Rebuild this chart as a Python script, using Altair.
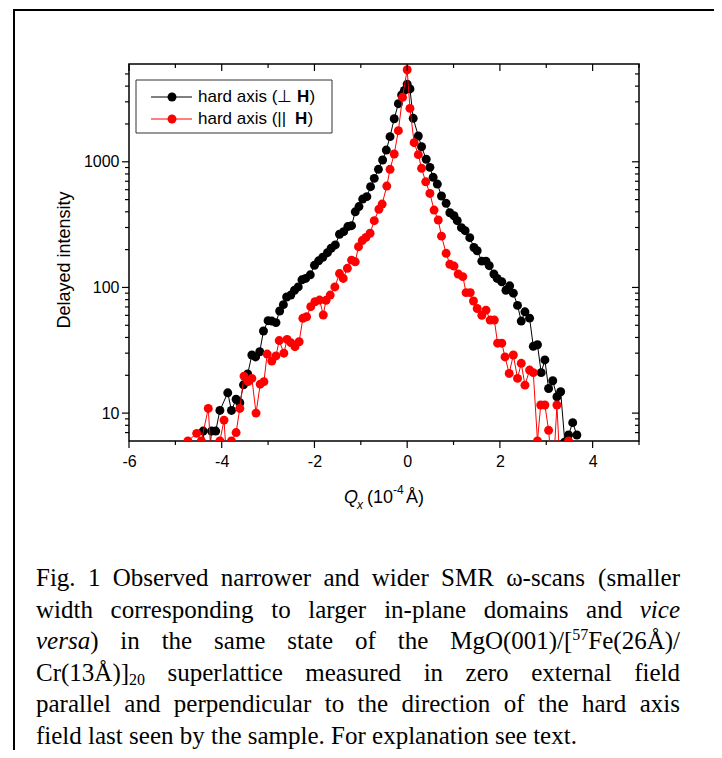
import altair as alt
import pandas as pd

# ---------------- data ----------------
qx_perp = [-4.49, -4.40, -4.31, -4.22, -4.13, -4.04, -3.87, -3.79, -3.69, -3.61, -3.53, -3.44,
           -3.35, -3.27, -3.18, -3.10, -3.00, -2.92, -2.83, -2.75, -2.67, -2.60, -2.51, -2.43,
           -2.35, -2.27, -2.19, -2.09, -2.00, -1.91, -1.82, -1.72, -1.64, -1.55, -1.46, -1.37,
           -1.28, -1.20, -1.12, -1.04, -0.96, -0.87, -0.79, -0.71, -0.62, -0.53, -0.45, -0.37,
           -0.28, -0.19, -0.12, -0.06, 0.00, 0.06, 0.13, 0.24, 0.31, 0.41, 0.49, 0.56, 0.65,
           0.74, 0.84, 0.92, 1.01, 1.08, 1.17, 1.25, 1.35, 1.44, 1.51, 1.61, 1.70, 1.77, 1.87,
           1.94, 2.04, 2.13, 2.21, 2.29, 2.38, 2.46, 2.54, 2.64, 2.72, 2.81, 2.89, 2.97, 3.05,
           3.14, 3.23, 3.31, 3.40, 3.48, 3.57, 3.66]
int_perp = [3, 7.2, 3, 7.2, 7.2, 10.5, 14.5, 10.5, 12.9, 12.1, 16.8, 20.5,
            29, 28, 30.8, 45, 54.4, 54, 52.5, 65, 73, 84, 87, 95,
            101, 115, 118, 126, 150, 163, 174, 189, 205, 218, 265, 278,
            305, 310, 400, 440, 505, 528, 634, 738, 871, 1033, 1240, 1585,
            2200, 2900, 3400, 3700, 4150, 3800, 2217, 1603, 1318, 1047, 903, 752, 665,
            534, 467, 393, 372, 340, 299, 283, 249, 208, 196, 162, 162, 149, 128,
            118, 111, 95, 103, 90, 72, 54, 64, 57, 34, 35, 21, 26.5, 15.7,
            18.1, 13.5, 14.8, 5.9, 6.7, 8.4, 6.7]

qx_par = [-4.73, -4.54, -4.44, -4.29, -4.20, -4.04, -3.95, -3.87, -3.79, -3.69, -3.61, -3.52,
          -3.43, -3.35, -3.26, -3.17, -3.09, -3.02, -2.92, -2.83, -2.76, -2.66, -2.59, -2.51,
          -2.42, -2.33, -2.25, -2.17, -2.08, -1.99, -1.89, -1.81, -1.75, -1.66, -1.56, -1.46,
          -1.38, -1.29, -1.20, -1.12, -1.05, -0.97, -0.89, -0.80, -0.71, -0.61, -0.54, -0.44,
          -0.37, -0.28, -0.19, -0.10, 0.00, 0.06, 0.15, 0.24, 0.31, 0.40, 0.49, 0.58, 0.67,
          0.74, 0.84, 0.92, 1.01, 1.10, 1.20, 1.27, 1.36, 1.43, 1.51, 1.61, 1.70, 1.79, 1.88,
          1.95, 2.04, 2.11, 2.20, 2.29, 2.38, 2.46, 2.54, 2.64, 2.72, 2.81, 2.88, 2.97, 3.05,
          3.14, 3.23, 3.31, 3.48]
int_par = [6, 6.9, 6, 10.9, 3, 6, 8.8, 3, 6, 7, 10.9, 19.7,
           17.8, 18.9, 10, 17, 17.8, 29.5, 26, 28.5, 37.8, 30, 38.6, 36.4,
           33.8, 37, 56.8, 58.5, 70.3, 77, 79.4, 60.4, 79, 87, 101, 129,
           118, 142, 165, 160, 211, 236, 250, 270, 340, 419, 461, 641,
           871, 1153, 1770, 3260, 5400, 2660, 1419, 1140, 887, 693, 560, 413, 344,
           256, 187, 153, 148, 128, 122, 91, 91, 78, 68, 60, 66, 55, 55,
           36, 36, 28, 20.7, 29, 18.9, 24.9, 16.7, 22, 21, 6, 11.6, 11.6, 7.3,
           3, 11.6, 3, 6]

assert len(qx_perp) == len(int_perp)
assert len(qx_par) == len(int_par)

x_major = [-6, -4, -2, 0, 2, 4]
x_minor = [-5, -3, -1, 1, 3, 5]
y_major = [10, 100, 1000]
y_minor = [7, 8, 9, 20, 30, 40, 50, 60, 70, 80, 90, 200, 300, 400, 500, 600, 700, 800, 900,
           2000, 3000, 4000, 5000]

legend_text = ["hard axis (\u22a5", "hard axis (||"]
legend_colors = ["black", "#ff0000"]
y_title = "Delayed intensity"

caption_lines = [
    "Fig. 1 Observed narrower and wider SMR \u03c9-scans (smaller",
    "width corresponding to larger in-plane domains and i:vice",
    "i:versa|n:) in the same state of the MgO(001)/[|u:57|n:Fe(26\u00c5)/",
    "Cr(13\u00c5)]|d:20 superlattice measured in zero external field",
    "parallel and perpendicular to the direction of the hard axis",
    "field last seen by the sample. For explanation see text.",
]

# ---------------- layout ----------------
W, H = 510, 377
PAD_L, PAD_T = 121, 56
OX, OY = 8 + PAD_L, 8 + PAD_T   # page position of the plot origin
TOTAL_W, TOTAL_H = 706, 742
MAJ, MIN = 7, 4

x_scale = alt.Scale(domain=[-6, 5], nice=False, zero=False)
y_scale = alt.Scale(type="log", domain=[6, 6000], nice=False)

x_axis = alt.Axis(values=x_major, title=None, grid=False, domain=False, ticks=False,
                  labelExpr="toString(datum.value)", labelFont="Liberation Sans",
                  labelFontSize=16, labelColor="black", labelPadding=MAJ + 5,
                  labelOverlap=False, labelFlush=False)
y_axis = alt.Axis(values=y_major, title=None, grid=False, domain=False, ticks=False,
                  labelExpr="toString(datum.value)", labelFont="Liberation Sans",
                  labelFontSize=16, labelColor="black", labelPadding=MAJ + 3,
                  labelOverlap=False, labelFlush=False)

X = alt.X("qx:Q", scale=x_scale, axis=x_axis)
Y = alt.Y("I:Q", scale=y_scale, axis=y_axis)

df_perp = pd.DataFrame({"qx": qx_perp, "I": int_perp})
df_par = pd.DataFrame({"qx": qx_par, "I": int_par})

layers = []
for df, col in [(df_perp, "black"), (df_par, "#ff0000")]:
    layers.append(alt.Chart(df).mark_line(color=col, strokeWidth=1, clip=True).encode(x=X, y=Y))
    layers.append(alt.Chart(df).mark_circle(color=col, size=80, opacity=1, clip=True).encode(x=X, y=Y))

# tick marks (bottom/left outward, top/right inward)
for vals, ln in [(x_major, MAJ), (x_minor, MIN)]:
    d = pd.DataFrame({"qx": vals})
    layers.append(alt.Chart(d).mark_rule(color="black", strokeWidth=1.2)
                  .encode(x=X, y=alt.value(H), y2=alt.value(H + ln)))
    layers.append(alt.Chart(d).mark_rule(color="black", strokeWidth=1.2)
                  .encode(x=X, y=alt.value(0), y2=alt.value(ln)))
for vals, ln in [(y_major, MAJ), (y_minor, MIN)]:
    d = pd.DataFrame({"I": vals})
    layers.append(alt.Chart(d).mark_rule(color="black", strokeWidth=1.2)
                  .encode(y=Y, x=alt.value(0), x2=alt.value(-ln)))
    layers.append(alt.Chart(d).mark_rule(color="black", strokeWidth=1.2)
                  .encode(y=Y, x=alt.value(W), x2=alt.value(W - ln)))

one = pd.DataFrame({"k": [0]})


def txt(text, px, py, size, font="Liberation Sans", style="normal", weight="normal",
        align="left", baseline="alphabetic", angle=None):
    kw = dict(text=text, font=font, fontSize=size, fontStyle=style, fontWeight=weight,
              align=align, baseline=baseline, color="black")
    if angle is not None:
        kw["angle"] = angle
    return alt.Chart(one).mark_text(**kw).encode(x=alt.value(px - OX), y=alt.value(py - OY))


# outer frame (continues past the bottom of the page)
layers.append(alt.Chart(one).mark_rect(fillOpacity=0, stroke="black", strokeWidth=2).encode(
    x=alt.value(14 - OX), x2=alt.value(718 - OX), y=alt.value(10 - OY), y2=alt.value(820 - OY)))

# legend
layers.append(alt.Chart(one).mark_rect(fill="white", stroke="#333333", strokeWidth=1).encode(
    x=alt.value(136 - OX), x2=alt.value(332 - OX), y=alt.value(80 - OY), y2=alt.value(133 - OY)))
row_y = [97, 119]
h_x = [297, 295]
for i in range(2):
    layers.append(alt.Chart(one).mark_rule(color=legend_colors[i], strokeWidth=1).encode(
        x=alt.value(151 - OX), x2=alt.value(192 - OX), y=alt.value(row_y[i] - OY)))
    layers.append(alt.Chart(one).mark_circle(color=legend_colors[i], size=80, opacity=1).encode(
        x=alt.value(172 - OX), y=alt.value(row_y[i] - OY)))
    layers.append(txt(legend_text[i], 198, row_y[i], 17, baseline="middle"))
    layers.append(txt("H", h_x[i], row_y[i], 17, weight="bold", baseline="middle"))
    layers.append(txt(")", h_x[i] + 12.5, row_y[i], 17, baseline="middle"))

# axis titles
layers.append(txt(y_title, 65, 260, 18, align="center", baseline="middle", angle=270))
layers.append(txt("Q", 344, 503, 18, style="italic"))
layers.append(txt("x", 357, 509, 12, style="italic"))
layers.append(txt("(10", 367, 503, 18))
layers.append(txt("-4", 393, 494, 12))
layers.append(txt("\u00c5)", 406, 503, 18))

# caption, justified with Times New Roman metrics
TW = {" ": 250, "(": 333, ")": 333, ".": 250, "-": 333, "/": 278, "[": 333, "]": 333,
      "A": 722, "C": 667, "F": 556, "G": 722, "M": 889, "O": 722, "R": 667, "S": 556,
      "\u00c5": 722, "\u03c9": 686}
for ch in "0123456789":
    TW[ch] = 500
for ch, w in zip("abcdefghijklmnopqrstuvwxyz",
                 [444, 500, 444, 500, 444, 333, 500, 500, 278, 278, 500, 278, 778, 500, 500,
                  500, 500, 333, 389, 278, 500, 500, 722, 500, 500, 444]):
    TW[ch] = w
TWI = dict(TW)
TWI.update({"v": 444, "i": 278, "c": 444, "e": 444, "r": 389, "s": 389, "a": 500})

CAP_SIZE, SUB_SIZE = 25, 16
DY = {"n": 0, "i": 0, "u": -9, "d": 4}


def parse(word):
    segs = []
    for s in word.split("|"):
        if len(s) > 2 and s[1] == ":" and s[0] in "niud":
            segs.append((s[2:], s[0]))
        else:
            segs.append((s, "n"))
    return segs


def seg_w(t, s):
    size = CAP_SIZE if s in "ni" else SUB_SIZE
    table = TWI if s == "i" else TW
    return sum(table.get(c, 500) for c in t) / 1000 * size


cap_left, cap_right = 36, 680
base0, pitch = 586, 31.6
for li, line in enumerate(caption_lines):
    words = [parse(w) for w in line.split(" ")]
    widths = [sum(seg_w(t, s) for t, s in w) for w in words]
    if li < len(caption_lines) - 1:
        gap = (cap_right - cap_left - sum(widths)) / (len(words) - 1)
    else:
        gap = 0.25 * CAP_SIZE
    x = cap_left
    yb = base0 + li * pitch
    for w, wd in zip(words, widths):
        sx = x
        for t, s in w:
            layers.append(txt(t, sx, yb + DY[s], CAP_SIZE if s in "ni" else SUB_SIZE,
                              font="Liberation Serif", style="italic" if s == "i" else "normal"))
            sx += seg_w(t, s)
        x += wd + gap

chart = alt.layer(*layers).properties(
    width=W, height=H,
    padding={"left": PAD_L, "top": PAD_T, "right": TOTAL_W - PAD_L - W, "bottom": TOTAL_H - PAD_T - H},
    autosize=alt.AutoSizeParams(type="none"),
    background="white",
).configure_view(stroke="black", strokeWidth=1.5)

chart.save("out.html", embed_options={"renderer": "svg", "actions": False})
